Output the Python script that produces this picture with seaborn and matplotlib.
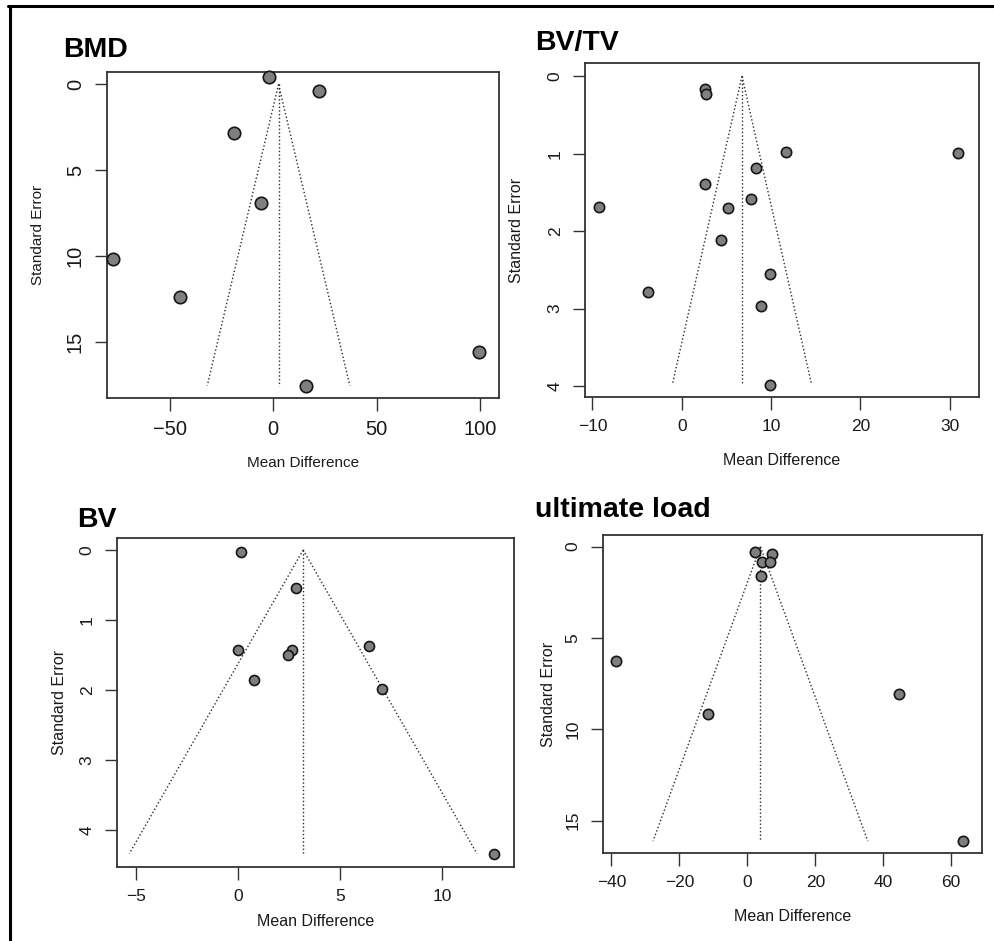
import numpy as np
import pandas as pd
import matplotlib
matplotlib.use("Agg")
import matplotlib.pyplot as plt
from matplotlib.lines import Line2D
import seaborn as sns

# BMD
bmd_md = [-1.8, 21.9, -19.1, -5.8, -77.1, -45.2, 99.4, 15.9]
bmd_se = [-0.4, 0.41, 2.86, 6.92, 10.2, 12.4, 15.6, 17.56]
bmd_est = 2.6

# BV/TV
bvtv_md = [2.58, 2.68, 11.68, 30.94, 8.36, 2.61, 7.76, -9.26, 5.15, 4.37, 9.85, -3.81, 8.88, 9.85]
bvtv_se = [0.17, 0.23, 0.98, 0.99, 1.19, 1.39, 1.58, 1.69, 1.70, 2.12, 2.55, 2.79, 2.97, 3.98]
bvtv_est = 6.75

# BV
bv_md = [0.18, 2.86, 0.03, 2.66, 2.48, 6.42, 0.80, 7.07, 12.52]
bv_se = [0.03, 0.54, 1.43, 1.43, 1.50, 1.37, 1.86, 1.98, 4.34]
bv_est = 3.2

# ultimate load
ul_md = [2.17, 7.17, 4.42, 6.67, 4.02, -38.8, -11.65, 44.7, 63.6]
ul_se = [0.27, 0.40, 0.82, 0.86, 1.60, 6.26, 9.16, 8.08, 16.13]
ul_est = 3.85

sns.set_theme(style="ticks")
plt.rcParams['font.family'] = ['Liberation Sans', 'DejaVu Sans']

W, H = 995, 941
fig = plt.figure(figsize=(W / 100, H / 100), dpi=100)


def px_rect(x0, y0, x1, y1):
    # pixel box (top-left origin) -> figure fraction
    return [x0 / W, (H - y1) / H, (x1 - x0) / W, (y1 - y0) / H]


panels = [
    dict(title="BMD", md=bmd_md, se=bmd_se, est=bmd_est,
         rect=px_rect(107, 72, 499, 398), xlim=(-80.2, 109), ylim=(18.28, -0.72),
         xticks=[-50, 0, 50, 100], yticks=[0, 5, 10, 15], tick_fs=14.5, lab_fs=11,
         ms=80, title_xy=(63, 57), xlab_y=-0.2, ylab_x=-0.177),
    dict(title="BV/TV", md=bvtv_md, se=bvtv_se, est=bvtv_est,
         rect=px_rect(585, 63, 979, 397), xlim=(-10.83, 33.3), ylim=(4.14, -0.17),
         xticks=[-10, 0, 10, 20, 30], yticks=[0, 1, 2, 3, 4], tick_fs=12.5, lab_fs=11.5,
         ms=55, title_xy=(535, 50), xlab_y=-0.19, ylab_x=-0.173),
    dict(title="BV", md=bv_md, se=bv_se, est=bv_est,
         rect=px_rect(117, 538, 514, 867), xlim=(-5.91, 13.52), ylim=(4.53, -0.17),
         xticks=[-5, 0, 5, 10], yticks=[0, 1, 2, 3, 4], tick_fs=12.5, lab_fs=11.5,
         ms=52, title_xy=(77, 527), xlab_y=-0.166, ylab_x=-0.144),
    dict(title="ultimate load", md=ul_md, se=ul_se, est=ul_est,
         rect=px_rect(603, 535, 982, 853), xlim=(-42.5, 69.1), ylim=(16.78, -0.64),
         xticks=[-40, -20, 0, 20, 40, 60], yticks=[0, 5, 10, 15], tick_fs=12.5, lab_fs=11.5,
         ms=55, title_xy=(535, 517), xlab_y=-0.2, ylab_x=-0.145),
]

for p in panels:
    ax = fig.add_axes(p["rect"])
    df = pd.DataFrame({"md": p["md"], "se": p["se"]})

    # funnel: vertical line at the estimate and the 95% limits
    se_max = df["se"].max()
    est = p["est"]
    lc = "#2b2b2b"
    ax.plot([est, est], [0, se_max], ls=":", lw=1.0, color=lc)
    ax.plot([est, est - 1.96 * se_max], [0, se_max], ls=":", lw=1.0, color=lc)
    ax.plot([est, est + 1.96 * se_max], [0, se_max], ls=":", lw=1.0, color=lc)

    sns.scatterplot(data=df, x="md", y="se", ax=ax, s=p["ms"],
                    color="#7f7f7f", edgecolor="#151515", linewidth=1.2,
                    zorder=3, clip_on=False)

    ax.set_xlim(*p["xlim"])
    ax.set_ylim(*p["ylim"])
    ax.set_xticks(p["xticks"])
    ax.set_yticks(p["yticks"])
    ax.tick_params(direction="out", length=9, width=1, color="#333333",
                   labelsize=p["tick_fs"], labelcolor="#1a1a1a", pad=7)
    for lab in ax.get_yticklabels():
        lab.set_rotation(90)
        lab.set_va("center")

    for sp in ax.spines.values():
        sp.set_color("#333333")
        sp.set_linewidth(1.3)

    ax.set_xlabel("Mean Difference", fontsize=p["lab_fs"], color="#1a1a1a", va="center")
    ax.set_ylabel("Standard Error", fontsize=p["lab_fs"], color="#1a1a1a", va="center")
    ax.xaxis.set_label_coords(0.5, p["xlab_y"])
    ax.yaxis.set_label_coords(p["ylab_x"], 0.5)

    tx, ty = p["title_xy"]
    fig.text(tx / W, 1 - ty / H, p["title"], fontsize=20.5, fontweight="bold",
             color="black", ha="left", va="baseline")

# outer frame (only left and top edges are inside the picture)
fig.add_artist(Line2D([9.5 / W, 9.5 / W], [0, 1 - 6 / H], color="black", lw=2.2,
                      transform=fig.transFigure))
fig.add_artist(Line2D([8 / W, 1], [1 - 6 / H, 1 - 6 / H], color="black", lw=2.2,
                      transform=fig.transFigure))

fig.savefig("out.png", dpi=100, facecolor="white")
